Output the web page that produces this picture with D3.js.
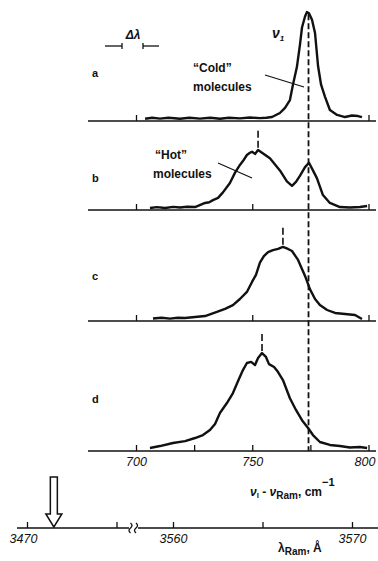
<!DOCTYPE html>
<html>
<head>
<meta charset="utf-8">
<script src="https://cdn.jsdelivr.net/npm/d3@7"></script>
<style>
    body { margin: 0; background: #fff; }
    svg { display: block; }
    text { font-family: "Liberation Sans", Arial, sans-serif; fill: #111; }
</style>
</head>
<body>
<div id="chart"></div>
<script>
// Raman shift (cm^-1), relative intensity
const spectrumA = [
    [703.9, 0.02], [707, 0.03], [710.3, 0.022], [714, 0.03], [718.9, 0.021], [723, 0.03],
    [727.5, 0.022], [732, 0.03], [736.1, 0.02], [740, 0.03], [744.7, 0.024], [749, 0.032],
    [753.3, 0.026], [756, 0.03], [758.5, 0.036], [761.9, 0.073], [764.1, 0.12], [766.2, 0.19],
    [767.5, 0.33], [769.2, 0.49], [770.5, 0.69], [771.4, 0.85], [772.7, 0.95], [773.5, 0.99],
    [774.4, 0.98], [775.7, 0.92], [777.0, 0.8], [778.3, 0.5], [779.6, 0.33], [781.3, 0.22],
    [783.4, 0.1], [786.5, 0.055], [789.9, 0.036], [792.9, 0.05], [795.5, 0.045], [797.2, 0.036]
]
const spectrumB = [
    [706.0, 0.018], [709, 0.026], [712.5, 0.018], [716, 0.028], [718.9, 0.023], [722, 0.03],
    [725.4, 0.027], [729.7, 0.064], [731.5, 0.07], [733.1, 0.09], [735.3, 0.11], [737.4, 0.16],
    [740.4, 0.245], [742.6, 0.34], [744.7, 0.41], [746.0, 0.445], [747.7, 0.5], [749.0, 0.52],
    [749.9, 0.53], [751.2, 0.51], [752.5, 0.545], [754.2, 0.52], [757.6, 0.47], [761.9, 0.36],
    [764.9, 0.26], [767.1, 0.22], [768.8, 0.255], [770.5, 0.31], [772.7, 0.39], [774.4, 0.43],
    [776.1, 0.36], [777.8, 0.29], [780.4, 0.136], [783.4, 0.064], [787.7, 0.027], [792.0, 0.023],
    [796.3, 0.027], [799.4, 0.036]
]
const spectrumC = [
    [707.3, 0.023], [711, 0.03], [714.6, 0.022], [718, 0.03], [721.1, 0.027], [725.4, 0.036],
    [729.7, 0.045], [734.8, 0.082], [738.3, 0.11], [741.7, 0.145], [744.7, 0.2], [747.7, 0.264],
    [749.9, 0.355], [751.6, 0.42], [753.3, 0.53], [755.0, 0.59], [756.8, 0.627], [758.9, 0.645],
    [761.1, 0.655], [763.2, 0.673], [765.4, 0.655], [767.1, 0.636], [769.7, 0.555], [772.7, 0.41],
    [774.8, 0.29], [777.0, 0.2], [779.1, 0.145], [782.2, 0.1], [785.6, 0.073], [789.9, 0.064],
    [794.2, 0.055], [797.2, 0.018]
]
const spectrumD = [
    [706.0, 0.027], [710.3, 0.045], [715.9, 0.073], [721.1, 0.09], [725.4, 0.118], [728.8, 0.145],
    [731.8, 0.19], [734.0, 0.245], [736.1, 0.345], [739.1, 0.436], [741.7, 0.527], [743.9, 0.636],
    [746.0, 0.736], [747.7, 0.8], [749.5, 0.81], [751.2, 0.782], [752.5, 0.845], [754.2, 0.89],
    [755.9, 0.855], [757.2, 0.79], [759.4, 0.764], [761.1, 0.718], [763.2, 0.645], [766.2, 0.48],
    [768.8, 0.373], [771.4, 0.28], [774.0, 0.21], [776.1, 0.145], [779.1, 0.082], [783.4, 0.055],
    [787.7, 0.045], [792.0, 0.032], [796.3, 0.036], [799.4, 0.027]
]

const panelNames = ["a", "b", "c", "d"]
const panelTicks = [[700, 800], [700, 750, 800], [700, 750, 800], [700, 725, 750, 775, 800]]
const shiftLabels = [700, 750, 800]
const coldShift = 774.2
const hotShifts = [null, 752.5, 763.2, 754.2]

const wlLeftTicks = [3470, 3475]
const wlRightTicks = [3560, 3565, 3570]
const wlLabels = [3470, 3560, 3570]
const laserWl = 3471.5

const width = 378
const height = 561
const baselines = [121, 210, 321, 451]
const spectra = [spectrumA, spectrumB, spectrumC, spectrumD]

const svg = d3.select("#chart").append("svg")
    .attr("width", width)
    .attr("height", height)

const x = d3.scaleLinear().domain([700, 800]).range([136, 368.5])
const yScales = baselines.map((b) => d3.scaleLinear().domain([0, 1]).range([b, b - 110]))

const styleTickText = (sel) => sel
    .attr("font-family", "'Liberation Sans', Arial, sans-serif")
    .attr("font-size", 12.5)
    .attr("font-style", "italic")
    .attr("fill", "#111")

// panels
spectra.forEach((data, i) => {
    const y = yScales[i]
    const g = svg.append("g")

    g.append("line")
        .attr("x1", 88).attr("x2", 376)
        .attr("y1", baselines[i]).attr("y2", baselines[i])
        .attr("stroke", "#111").attr("stroke-width", 1.6)

    const axis = d3.axisBottom(x)
        .tickValues(panelTicks[i])
        .tickSizeInner(-6)
        .tickSizeOuter(0)
        .tickPadding(6)
        .tickFormat((d) => (i === 3 && shiftLabels.includes(d) ? d : ""))

    const ax = g.append("g")
        .attr("transform", `translate(0,${baselines[i]})`)
        .call(axis)
    ax.select(".domain").remove()
    ax.selectAll(".tick line").attr("stroke", "#111").attr("stroke-width", 1.3)
    ax.selectAll(".tick text").call(styleTickText)
        .attr("dx", (d) => (d === 800 ? -4 : 0))

    g.append("path")
        .datum(data)
        .attr("fill", "none")
        .attr("stroke", "#111")
        .attr("stroke-width", 2.4)
        .attr("stroke-linejoin", "round")
        .attr("d", d3.line().x((d) => x(d[0])).y((d) => y(d[1])))

    g.append("text")
        .attr("x", 92).attr("y", baselines[i] - [44, 28, 41, 48][i])
        .attr("font-size", 11).attr("font-weight", "bold")
        .text(panelNames[i])

    if (hotShifts[i] !== null) {
        const peak = d3.max(data, (d) => d[1])
        g.append("line")
            .attr("x1", x(hotShifts[i])).attr("x2", x(hotShifts[i]))
            .attr("y1", y(peak + 0.02)).attr("y2", y(peak + 0.2))
            .attr("stroke", "#111").attr("stroke-width", 1.6)
            .attr("stroke-dasharray", "7,3")
    }
})

// cold-molecule line through all panels
svg.append("line")
    .attr("x1", x(coldShift)).attr("x2", x(coldShift))
    .attr("y1", yScales[0](0.97)).attr("y2", yScales[3](0))
    .attr("stroke", "#111").attr("stroke-width", 1.8)
    .attr("stroke-dasharray", "6,3")

// annotations
const dl = svg.append("g").attr("stroke", "#111").attr("stroke-width", 1.3)
dl.append("line").attr("x1", 105).attr("x2", 122).attr("y1", 46).attr("y2", 46)
dl.append("line").attr("x1", 122).attr("x2", 122).attr("y1", 43).attr("y2", 49)
dl.append("line").attr("x1", 143).attr("x2", 159).attr("y1", 46).attr("y2", 46)
dl.append("line").attr("x1", 143).attr("x2", 143).attr("y1", 43).attr("y2", 49)
svg.append("text").attr("x", 133).attr("y", 39)
    .attr("text-anchor", "middle").attr("font-size", 12)
    .attr("font-style", "italic").attr("font-weight", "bold")
    .text("Δλ")

const nu = svg.append("text").attr("x", 272).attr("y", 38)
    .attr("font-family", "'DejaVu Serif', serif").attr("font-style", "italic")
    .attr("font-weight", "bold").attr("font-size", 14)
nu.append("tspan").text("ν")
nu.append("tspan").attr("font-size", 8).attr("dy", 3).text("1")

const label = (tx, ty, s) => svg.append("text").attr("x", tx).attr("y", ty)
    .attr("font-size", 12).attr("font-weight", "bold").text(s)
label(193, 72, "“Cold”")
label(193, 91, "molecules")
label(155, 159, "“Hot”")
label(153, 178, "molecules")
svg.append("line").attr("x1", 265).attr("y1", 75).attr("x2", 304).attr("y2", 87)
    .attr("stroke", "#111").attr("stroke-width", 1.2)
svg.append("line").attr("x1", 218).attr("y1", 163).attr("x2", 252).attr("y2", 178)
    .attr("stroke", "#111").attr("stroke-width", 1.2)

// shift axis title
const t1 = svg.append("text").attr("x", 250).attr("y", 496)
    .attr("font-size", 12).attr("font-weight", "bold")
t1.append("tspan").attr("font-style", "italic").text("ν")
t1.append("tspan").attr("font-size", 8).attr("dy", 2).text("l")
t1.append("tspan").attr("dy", -2).text(" - ")
t1.append("tspan").attr("font-style", "italic").text("ν")
t1.append("tspan").attr("font-size", 10).attr("dy", 3).text("Ram")
t1.append("tspan").attr("dy", -3).text(", cm")
t1.append("tspan").attr("font-size", 11).attr("dy", -10).text("−1")

// wavelength axis (broken)
const wlY = 528
const xl = d3.scaleLinear().domain([3470, 3475]).range([27, 116.5])
const xr = d3.scaleLinear().domain([3560, 3570]).range([173, 352])

svg.append("line").attr("x1", 17).attr("x2", 129).attr("y1", wlY).attr("y2", wlY)
    .attr("stroke", "#111").attr("stroke-width", 1.6)
svg.append("line").attr("x1", 138).attr("x2", 378).attr("y1", wlY).attr("y2", wlY)
    .attr("stroke", "#111").attr("stroke-width", 1.6)
;[130.5, 136].forEach((bx) => {
    svg.append("path")
        .attr("d", `M${bx},${wlY - 5} q3,2.5 0,5 q-3,2.5 0,5`)
        .attr("fill", "none").attr("stroke", "#111").attr("stroke-width", 1.3)
})

const wlAxis = (scale, ticks) => {
    const ax = svg.append("g")
        .attr("transform", `translate(0,${wlY})`)
        .call(d3.axisBottom(scale)
            .tickValues(ticks)
            .tickSizeInner(-6)
            .tickSizeOuter(0)
            .tickPadding(6)
            .tickFormat((d) => (wlLabels.includes(d) ? d : "")))
    ax.select(".domain").remove()
    ax.selectAll(".tick line").attr("stroke", "#111").attr("stroke-width", 1.3)
    ax.selectAll(".tick text").call(styleTickText)
        .attr("dx", (d) => (d === 3470 ? -4 : 0))
}
wlAxis(xl, wlLeftTicks)
wlAxis(xr, wlRightTicks)

// laser line arrow
const axX = xl(laserWl)
svg.append("path")
    .attr("d", `M${axX - 3.5},477 L${axX + 3.5},477 L${axX + 3.5},514 L${axX + 8},514 ` +
        `L${axX},${wlY - 1} L${axX - 8},514 L${axX - 3.5},514 Z`)
    .attr("fill", "#fff").attr("stroke", "#111").attr("stroke-width", 1.5)

const t2 = svg.append("text").attr("x", 278).attr("y", 552)
    .attr("font-size", 12).attr("font-weight", "bold")
t2.append("tspan").text("λ")
t2.append("tspan").attr("font-size", 10).attr("dy", 3).text("Ram")
t2.append("tspan").attr("dy", -3).text(", Å")
</script>
</body>
</html>
